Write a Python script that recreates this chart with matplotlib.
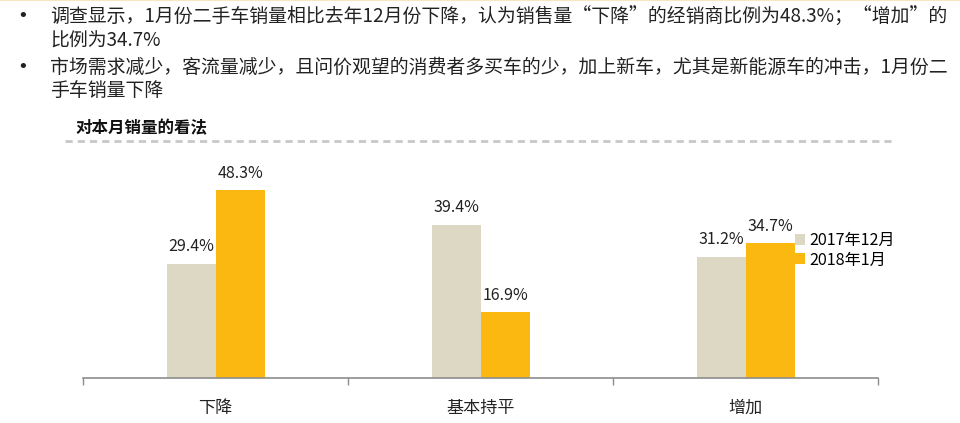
import matplotlib
matplotlib.use("Agg")
import matplotlib.pyplot as plt
from matplotlib.lines import Line2D
import numpy as np

plt.rcParams['font.family'] = ['Noto Sans CJK SC', 'DejaVu Sans']

categories = ["下降", "基本持平", "增加"]
series_names = ["2017年12月", "2018年1月"]
values_2017_12 = [29.4, 39.4, 31.2]
values_2018_01 = [48.3, 16.9, 34.7]
colors = ["#DDD8C3", "#FBB810"]

bullet_lines = [
    ["调查显示，1月份二手车销量相比去年12月份下降，认为销售量“下降”的经销商比例为48.3%；“增加”的",
     "比例为34.7%"],
    ["市场需求减少，客流量减少，且问价观望的消费者多买车的少，加上新车，尤其是新能源车的冲击，1月份二",
     "手车销量下降"],
]
chart_title = "对本月销量的看法"

W, H = 960, 423
fig = plt.figure(figsize=(W / 100, H / 100), dpi=100)

def fx(px):
    return px / W

def fy(py):
    return 1 - py / H

# top thin line
fig.add_artist(Line2D([0, 1], [fy(0.5), fy(0.5)], color="#F7E7C0", lw=1.5))

# bullets
line_centers = [[16, 41], [67, 91]]
for centers, lines in zip(line_centers, bullet_lines):
    fig.text(fx(17), fy(centers[0]), "•", fontsize=13, va="center", ha="left",
             color="#222222", family="DejaVu Sans")
    for yc, txt in zip(centers, lines):
        fig.text(fx(50), fy(yc), txt, fontsize=13.6, va="center", ha="left", color="#222222")

# chart title
fig.text(fx(75), fy(128), chart_title, fontsize=11.9, fontweight="bold", va="center", ha="left",
         color="#111111")
fig.add_artist(Line2D([fx(65), fx(893)], [fy(141), fy(141)], color="#C8C8C8", lw=2,
                      linestyle=(0, (2.6, 1.8))))

# axes
left, right, bottom, top = 83, 878, 378, 150
ax = fig.add_axes([fx(left), fy(bottom), fx(right - left), (bottom - top) / H])
scale = 188 / 48.3
ax.set_ylim(0, (bottom - top) / scale)
ax.set_xlim(-0.5, len(categories) - 0.5)

x = np.arange(len(categories))
w = 49 / 265
b1 = ax.bar(x - w / 2, values_2017_12, width=w, color=colors[0], label=series_names[0])
b2 = ax.bar(x + w / 2, values_2018_01, width=w, color=colors[1], label=series_names[1])

for bars, vals in [(b1, values_2017_12), (b2, values_2018_01)]:
    for r, v in zip(bars, vals):
        ax.annotate(f"{v}%", (r.get_x() + r.get_width() / 2, v), xytext=(0, 6),
                    textcoords="offset points", ha="center", va="bottom",
                    fontsize=11.5, color="#222222")

for s in ["top", "right", "left"]:
    ax.spines[s].set_visible(False)
ax.spines["bottom"].set_color("#8C8C8C")
ax.spines["bottom"].set_linewidth(1.2)
ax.set_yticks([])
ax.set_xticks(np.arange(-0.5, len(categories)), minor=False)
ax.set_xticklabels([])
ax.tick_params(axis="x", length=5, color="#8C8C8C", width=1)
for xi, c in zip(x, categories):
    ax.text(xi, -0.13, c, transform=ax.get_xaxis_transform(), ha="center", va="center",
            fontsize=12.3, color="#222222")

ax.legend(loc="upper left", bbox_to_anchor=((795 - left) / (right - left), (bottom - 232) / (bottom - top)),
          frameon=False, fontsize=11.6, handlelength=0.65, handleheight=0.65, handletextpad=0.25,
          labelspacing=0.15, borderaxespad=0, borderpad=0)

fig.savefig("out.png", dpi=100, facecolor="white")
